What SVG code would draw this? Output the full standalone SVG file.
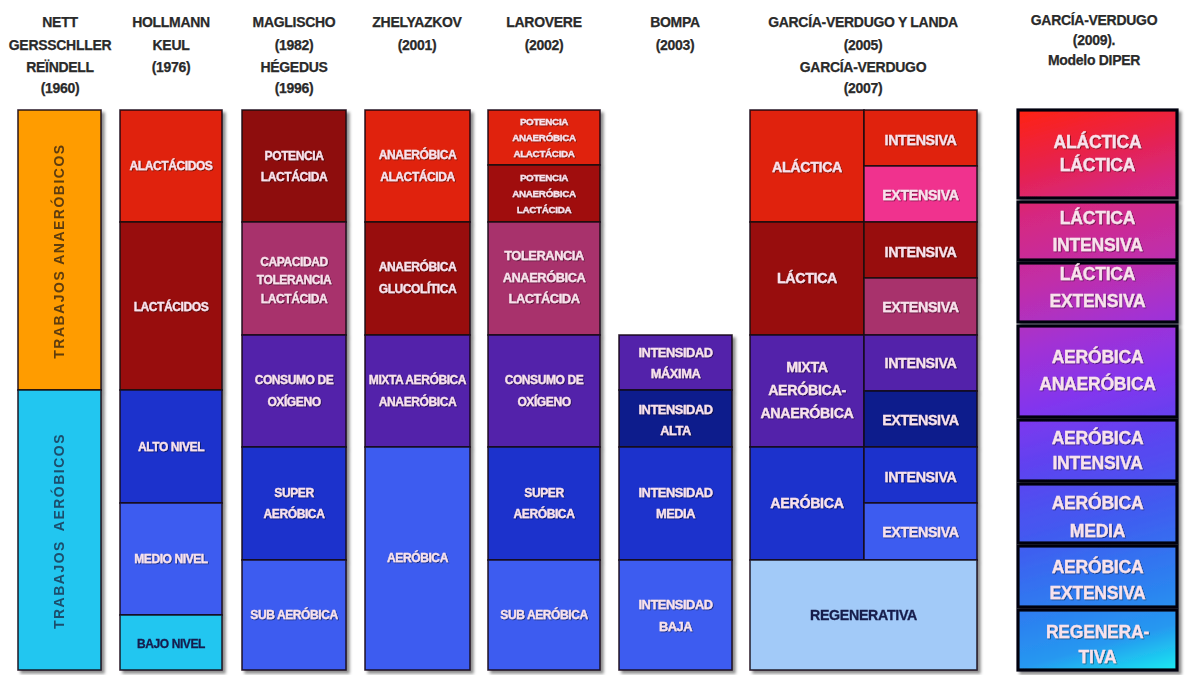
<svg xmlns="http://www.w3.org/2000/svg" width="1186" height="675" viewBox="0 0 1186 675">
<defs>
<filter id="sh" x="-10%" y="-5%" width="125%" height="115%"><feDropShadow dx="3" dy="3" stdDeviation="1.8" flood-color="#000" flood-opacity="0.45"/></filter>
<filter id="ts" x="-5%" y="-30%" width="110%" height="160%"><feDropShadow dx="0.8" dy="0.8" stdDeviation="0.6" flood-color="#000" flood-opacity="0.6"/></filter>
<linearGradient id="dip" gradientUnits="userSpaceOnUse" x1="1018" y1="110" x2="1177" y2="672">
<stop offset="0" stop-color="#ff2412"/>
<stop offset="0.1" stop-color="#e8224a"/>
<stop offset="0.18" stop-color="#d62880"/>
<stop offset="0.3" stop-color="#c02eaa"/>
<stop offset="0.4" stop-color="#a232d4"/>
<stop offset="0.5" stop-color="#8236ee"/>
<stop offset="0.6" stop-color="#5c44f0"/>
<stop offset="0.72" stop-color="#405cf0"/>
<stop offset="0.83" stop-color="#2e7cf0"/>
<stop offset="0.92" stop-color="#2698f0"/>
<stop offset="1" stop-color="#18eef0"/>
</linearGradient>
<style>
rect{stroke:#140812;stroke-width:1.6;stroke-opacity:0.85}
.or{fill:#ff9c00}.cy{fill:#22c6f0}.rd{fill:#e0240c}.dr{fill:#980c0c}.mv{fill:#a8306c}
.pu{fill:#5222aa}.db{fill:#1a30cc}.nv{fill:#0e1a8c}.mb{fill:#3c5cf0}.pk{fill:#f0308e}.lb{fill:#a2caf8}
.dp{fill:url(#dip);stroke:#06060c;stroke-width:3.2;stroke-opacity:1}
text{font-family:"Liberation Sans",Arial,sans-serif;font-weight:bold;text-anchor:middle}
.h{font-size:14px;fill:#2a2a2a;stroke:#2a2a2a;stroke-width:0.25px;letter-spacing:-0.3px}
.t{font-size:12px;letter-spacing:-0.4px}
.s{font-size:9.8px;letter-spacing:-0.3px}
.m{font-size:12.8px;letter-spacing:-0.4px}
.g{font-size:14.2px;letter-spacing:-0.3px}
.b{font-size:17.5px;letter-spacing:-0.2px}
.lt{fill:#f8e2ec;stroke:#f8e2ec;stroke-width:0.3px;filter:url(#ts)}
.dk{fill:#161c4c;stroke:#161c4c;stroke-width:0.3px}
.rot{font-size:14px;letter-spacing:1.5px}
</style>
</defs>

<g id="headers">
<text class="h"><tspan x="60" y="27">NETT</tspan><tspan x="60" y="50">GERSSCHLLER</tspan><tspan x="60" y="72">REÏNDELL</tspan><tspan x="60" y="93">(1960)</tspan></text>
<text class="h"><tspan x="171" y="27">HOLLMANN</tspan><tspan x="171" y="50">KEUL</tspan><tspan x="171" y="72">(1976)</tspan></text>
<text class="h"><tspan x="294" y="27">MAGLISCHO</tspan><tspan x="294" y="50">(1982)</tspan><tspan x="294" y="72">HÉGEDUS</tspan><tspan x="294" y="93">(1996)</tspan></text>
<text class="h"><tspan x="417" y="27">ZHELYAZKOV</tspan><tspan x="417" y="50">(2001)</tspan></text>
<text class="h"><tspan x="544" y="27">LAROVERE</tspan><tspan x="544" y="50">(2002)</tspan></text>
<text class="h"><tspan x="675" y="27">BOMPA</tspan><tspan x="675" y="50">(2003)</tspan></text>
<text class="h"><tspan x="863" y="27">GARCÍA-VERDUGO Y LANDA</tspan><tspan x="863" y="50">(2005)</tspan><tspan x="863" y="72">GARCÍA-VERDUGO</tspan><tspan x="863" y="93">(2007)</tspan></text>
<text class="h"><tspan x="1094" y="25">GARCÍA-VERDUGO</tspan><tspan x="1094" y="45">(2009).</tspan><tspan x="1094" y="65">Modelo DIPER</tspan></text>
</g>

<g id="col1" filter="url(#sh)">
<g id="n-anaerobicos"><rect class="or" x="18" y="110" width="83" height="280"/><text class="rot" fill="#5e3c0c" transform="translate(64,251) rotate(-90)">TRABAJOS ANAERÓBICOS</text></g>
<g id="n-aerobicos"><rect class="cy" x="18" y="390" width="83" height="280"/><text class="rot" fill="#1c4e6c" transform="translate(64,531) rotate(-90)" word-spacing="4">TRABAJOS AERÓBICOS</text></g>
</g>

<g id="col2" filter="url(#sh)">
<g id="n-alactacidos"><rect class="rd" x="120" y="110" width="102" height="112"/><text class="t lt" x="171" y="170">ALACTÁCIDOS</text></g>
<g id="n-lactacidos"><rect class="dr" x="120" y="222" width="102" height="168"/><text class="t lt" x="171" y="311">LACTÁCIDOS</text></g>
<g id="n-alto"><rect class="db" x="120" y="390" width="102" height="113"/><text class="t lt" x="171" y="451">ALTO NIVEL</text></g>
<g id="n-medio"><rect class="mb" x="120" y="503" width="102" height="112"/><text class="t lt" x="171" y="563">MEDIO NIVEL</text></g>
<g id="n-bajo"><rect class="cy" x="120" y="615" width="102" height="55"/><text class="t dk" x="171" y="648">BAJO NIVEL</text></g>
</g>

<g id="col3" filter="url(#sh)">
<g id="n-potlact"><rect class="dr" x="242" y="110" width="104" height="112" style="fill:#8e0a0c"/><text class="t lt"><tspan x="294" y="160">POTENCIA</tspan><tspan x="294" y="181">LACTÁCIDA</tspan></text></g>
<g id="n-capacidad"><rect class="mv" x="242" y="222" width="104" height="113"/><text class="t lt"><tspan x="294" y="266">CAPACIDAD</tspan><tspan x="294" y="284">TOLERANCIA</tspan><tspan x="294" y="303">LACTÁCIDA</tspan></text></g>
<g id="n-consumo3"><rect class="pu" x="242" y="335" width="104" height="112"/><text class="t lt"><tspan x="294" y="384">CONSUMO DE</tspan><tspan x="294" y="406">OXÍGENO</tspan></text></g>
<g id="n-super3"><rect class="db" x="242" y="447" width="104" height="113"/><text class="t lt"><tspan x="294" y="497">SUPER</tspan><tspan x="294" y="518">AERÓBICA</tspan></text></g>
<g id="n-sub3"><rect class="mb" x="242" y="560" width="104" height="110"/><text class="t lt" x="294" y="619">SUB AERÓBICA</text></g>
</g>

<g id="col4" filter="url(#sh)">
<g id="n-anaalact"><rect class="rd" x="365" y="110" width="105" height="112"/><text class="t lt"><tspan x="417.5" y="159">ANAERÓBICA</tspan><tspan x="417.5" y="181">ALACTÁCIDA</tspan></text></g>
<g id="n-glucol"><rect class="dr" x="365" y="222" width="105" height="113"/><text class="t lt"><tspan x="417.5" y="271">ANAERÓBICA</tspan><tspan x="417.5" y="293">GLUCOLÍTICA</tspan></text></g>
<g id="n-mixta4"><rect class="pu" x="365" y="335" width="105" height="112"/><text class="t lt"><tspan x="417.5" y="384">MIXTA AERÓBICA</tspan><tspan x="417.5" y="406">ANAERÓBICA</tspan></text></g>
<g id="n-aerob4"><rect class="mb" x="365" y="447" width="105" height="223"/><text class="t lt" x="417.5" y="562">AERÓBICA</text></g>
</g>

<g id="col5" filter="url(#sh)">
<g id="n-potanaalact"><rect class="rd" x="488" y="110" width="112" height="55"/><text class="s lt"><tspan x="544" y="125">POTENCIA</tspan><tspan x="544" y="141">ANAERÓBICA</tspan><tspan x="544" y="157">ALACTÁCIDA</tspan></text></g>
<g id="n-potanalact"><rect class="dr" x="488" y="165" width="112" height="57" style="fill:#a00e0e"/><text class="s lt"><tspan x="544" y="181">POTENCIA</tspan><tspan x="544" y="197">ANAERÓBICA</tspan><tspan x="544" y="213">LACTÁCIDA</tspan></text></g>
<g id="n-tolerancia"><rect class="mv" x="488" y="222" width="112" height="113"/><text class="m lt"><tspan x="544" y="260">TOLERANCIA</tspan><tspan x="544" y="282">ANAERÓBICA</tspan><tspan x="544" y="303">LACTÁCIDA</tspan></text></g>
<g id="n-consumo5"><rect class="pu" x="488" y="335" width="112" height="112"/><text class="t lt"><tspan x="544" y="384">CONSUMO DE</tspan><tspan x="544" y="406">OXÍGENO</tspan></text></g>
<g id="n-super5"><rect class="db" x="488" y="447" width="112" height="113"/><text class="t lt"><tspan x="544" y="497">SUPER</tspan><tspan x="544" y="518">AERÓBICA</tspan></text></g>
<g id="n-sub5"><rect class="mb" x="488" y="560" width="112" height="110"/><text class="t lt" x="544" y="619">SUB AERÓBICA</text></g>
</g>

<g id="col6" filter="url(#sh)">
<g id="n-maxima"><rect class="pu" x="619" y="335" width="113" height="55"/><text class="m lt"><tspan x="675.5" y="357">INTENSIDAD</tspan><tspan x="675.5" y="378">MÁXIMA</tspan></text></g>
<g id="n-alta"><rect class="nv" x="619" y="390" width="113" height="57"/><text class="m lt"><tspan x="675.5" y="414">INTENSIDAD</tspan><tspan x="675.5" y="435">ALTA</tspan></text></g>
<g id="n-media"><rect class="db" x="619" y="447" width="113" height="113"/><text class="m lt"><tspan x="675.5" y="497">INTENSIDAD</tspan><tspan x="675.5" y="518">MEDIA</tspan></text></g>
<g id="n-baja"><rect class="mb" x="619" y="560" width="113" height="110"/><text class="m lt"><tspan x="675.5" y="609">INTENSIDAD</tspan><tspan x="675.5" y="631">BAJA</tspan></text></g>
</g>

<g id="col7" filter="url(#sh)">
<g id="n-alactica"><rect class="rd" x="750" y="110" width="114" height="112"/><text class="g lt" x="807" y="172">ALÁCTICA</text></g>
<g id="n-alac-int"><rect class="rd" x="864" y="110" width="113" height="56"/><text class="g lt" x="920.5" y="145">INTENSIVA</text></g>
<g id="n-alac-ext"><rect class="pk" x="864" y="166" width="113" height="56"/><text class="g lt" x="920.5" y="200">EXTENSIVA</text></g>
<g id="n-lactica"><rect class="dr" x="750" y="222" width="114" height="113"/><text class="g lt" x="807" y="283">LÁCTICA</text></g>
<g id="n-lac-int"><rect class="dr" x="864" y="222" width="113" height="56"/><text class="g lt" x="920.5" y="257">INTENSIVA</text></g>
<g id="n-lac-ext"><rect class="mv" x="864" y="278" width="113" height="57"/><text class="g lt" x="920.5" y="312">EXTENSIVA</text></g>
<g id="n-mixta7"><rect class="pu" x="750" y="335" width="114" height="112"/><text class="g lt"><tspan x="807" y="372">MIXTA</tspan><tspan x="807" y="395">AERÓBICA-</tspan><tspan x="807" y="418">ANAERÓBICA</tspan></text></g>
<g id="n-mix-int"><rect class="pu" x="864" y="335" width="113" height="56"/><text class="g lt" x="920.5" y="368">INTENSIVA</text></g>
<g id="n-mix-ext"><rect class="nv" x="864" y="391" width="113" height="56"/><text class="g lt" x="920.5" y="425">EXTENSIVA</text></g>
<g id="n-aerob7"><rect class="db" x="750" y="447" width="114" height="113"/><text class="g lt" x="807" y="508">AERÓBICA</text></g>
<g id="n-aer-int"><rect class="db" x="864" y="447" width="113" height="56"/><text class="g lt" x="920.5" y="482">INTENSIVA</text></g>
<g id="n-aer-ext"><rect class="mb" x="864" y="503" width="113" height="57"/><text class="g lt" x="920.5" y="537">EXTENSIVA</text></g>
<g id="n-regen7"><rect class="lb" x="750" y="560" width="227" height="110"/><text class="g dk" x="863.5" y="620">REGENERATIVA</text></g>
</g>

<g id="col8" filter="url(#sh)">
<g id="d1"><rect class="dp" x="1018" y="110" width="159" height="88"/><text class="b lt"><tspan x="1097.5" y="148">ALÁCTICA</tspan><tspan x="1097.5" y="171">LÁCTICA</tspan></text></g>
<g id="d2"><rect class="dp" x="1018" y="202" width="159" height="58"/><text class="b lt"><tspan x="1097.5" y="224">LÁCTICA</tspan><tspan x="1097.5" y="251">INTENSIVA</tspan></text></g>
<g id="d3"><rect class="dp" x="1018" y="263" width="159" height="59"/><text class="b lt"><tspan x="1097.5" y="280">LÁCTICA</tspan><tspan x="1097.5" y="307">EXTENSIVA</tspan></text></g>
<g id="d4"><rect class="dp" x="1018" y="326" width="159" height="91"/><text class="b lt"><tspan x="1097.5" y="363">AERÓBICA</tspan><tspan x="1097.5" y="390">ANAERÓBICA</tspan></text></g>
<g id="d5"><rect class="dp" x="1018" y="420" width="159" height="61"/><text class="b lt"><tspan x="1097.5" y="444">AERÓBICA</tspan><tspan x="1097.5" y="469">INTENSIVA</tspan></text></g>
<g id="d6"><rect class="dp" x="1018" y="484" width="159" height="59"/><text class="b lt"><tspan x="1097.5" y="509">AERÓBICA</tspan><tspan x="1097.5" y="537">MEDIA</tspan></text></g>
<g id="d7"><rect class="dp" x="1018" y="546" width="159" height="61"/><text class="b lt"><tspan x="1097.5" y="573">AERÓBICA</tspan><tspan x="1097.5" y="599">EXTENSIVA</tspan></text></g>
<g id="d8"><rect class="dp" x="1018" y="610" width="159" height="60"/><text class="b lt"><tspan x="1097.5" y="638">REGENERA-</tspan><tspan x="1097.5" y="663">TIVA</tspan></text></g>
</g>
</svg>
